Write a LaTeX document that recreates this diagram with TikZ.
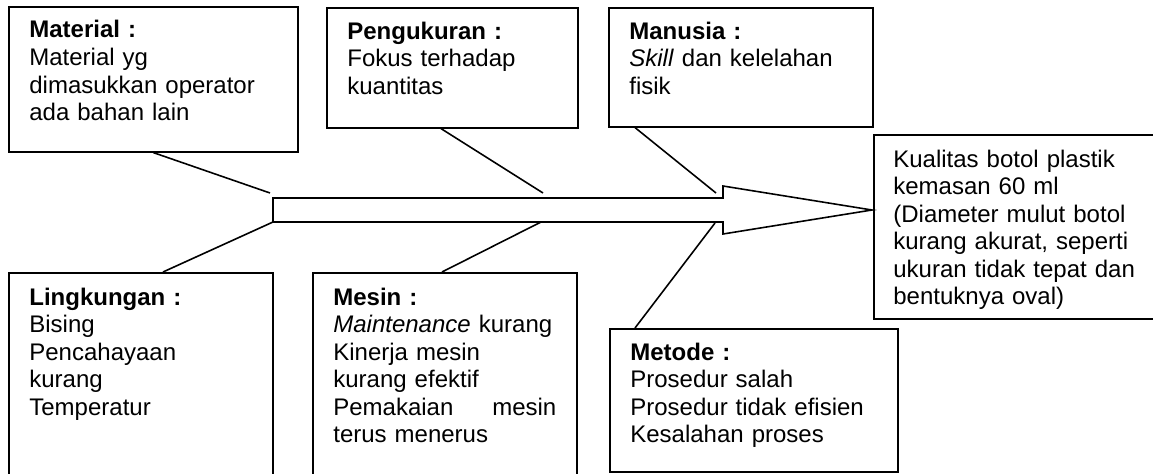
\documentclass[tikz,border=0pt]{standalone}
\usepackage{fontspec}
\setmainfont{Liberation Sans}
\usetikzlibrary{calc}

\tikzset{
  box/.style={draw, line width=0.9pt, inner sep=0pt, anchor=north west},
  txt/.style={anchor=base west, inner sep=0pt, align=left, text width=#1,
    font=\fontsize{13.66pt}{15.65pt}\selectfont},
  bone/.style={line width=0.9pt},
}

\begin{document}
\begin{tikzpicture}[x=0.2mm, y=-0.2mm]

    % page frame, the two lower boxes run past the bottom edge
    \clip (0,0) rectangle (1153,474);

    % Define the boxes of the causes and of the effect
    \node[box, minimum width=57.8mm, minimum height=29mm] (material) at (8,6) {};
    \node[box, minimum width=50.2mm, minimum height=24mm] (pengukuran) at (326,7) {};
    \node[box, minimum width=52.8mm, minimum height=23.8mm] (manusia) at (608,7) {};
    \node[box, minimum width=57.4mm, minimum height=36.8mm] (kualitas) at (873,134) {};
    \node[box, minimum width=52.8mm, minimum height=53.6mm] (lingkungan) at (8,272) {};
    \node[box, minimum width=52.8mm, minimum height=53.6mm] (mesin) at (312,272) {};
    \node[box, minimum width=57.6mm, minimum height=28.6mm] (metode) at (609,328) {};

    % Texts inside the boxes
    \node[txt=50mm] (materialtext) at ($(material.north west)+(21,32)$)
        {\textbf{Material :}\\Material yg\\dimasukkan operator\\ada bahan lain};
    \node[txt=45mm] (pengukurantext) at ($(pengukuran.north west)+(21,32)$)
        {\textbf{Pengukuran :}\\Fokus terhadap\\kuantitas};
    \node[txt=46mm] (manusiatext) at ($(manusia.north west)+(21,32)$)
        {\textbf{Manusia :}\\\textit{Skill} dan kelelahan\\fisik};
    \node[txt=52mm] (kualitastext) at ($(kualitas.north west)+(20,33)$)
        {Kualitas botol plastik\\kemasan 60 ml\\(Diameter mulut botol\\kurang akurat, seperti\\ukuran tidak tepat dan\\bentuknya oval)};
    \node[txt=46mm] (lingkungantext) at ($(lingkungan.north west)+(21,33)$)
        {\textbf{Lingkungan :}\\Bising\\Pencahayaan\\kurang\\Temperatur};
    \node[txt=44.6mm] (mesintext) at ($(mesin.north west)+(21,33)$)
        {\textbf{Mesin :}\\\textit{Maintenance} kurang\\Kinerja mesin\\kurang efektif\\Pemakaian\hfill mesin\\terus menerus};
    \node[txt=52mm] (metodetext) at ($(metode.north west)+(21,32)$)
        {\textbf{Metode :}\\Prosedur salah\\Prosedur tidak efisien\\Kesalahan proses};

    % Corners of the big arrow
    \coordinate (tailtop) at (273,198);
    \coordinate (tailbot) at (273,222);
    \coordinate (necktop) at (723,198);
    \coordinate (neckbot) at (723,222);
    \coordinate (headtop) at (723,186);
    \coordinate (headbot) at (723,234);
    \coordinate (tip) at (872,210);

    \draw[bone] (tailtop) -- (necktop) -- (headtop) -- (tip) -- (headbot)
        -- (neckbot) -- (tailbot) -- cycle;

    % Free ends of the bones next to the arrow
    \coordinate (materialend) at (270,193);
    \coordinate (pengukuranend) at (543,193);
    \coordinate (manusiaend) at (716,193);
    \coordinate (mesinend) at (541,222);
    \coordinate (metodeend) at (715,223);

    % Bones from the boxes to the arrow
    \draw[bone] (material.south) -- (materialend);
    \draw[bone] ($(pengukuran.south west)+(115,0)$) -- (pengukuranend);
    \draw[bone] ($(manusia.south west)+(27,0)$) -- (manusiaend);
    \draw[bone] ($(lingkungan.north west)+(155,0)$) -- (tailbot);
    \draw[bone] ($(mesin.north west)+(130,0)$) -- (mesinend);
    \draw[bone] ($(metode.north west)+(26,0)$) -- (metodeend);

\end{tikzpicture}
\end{document}
